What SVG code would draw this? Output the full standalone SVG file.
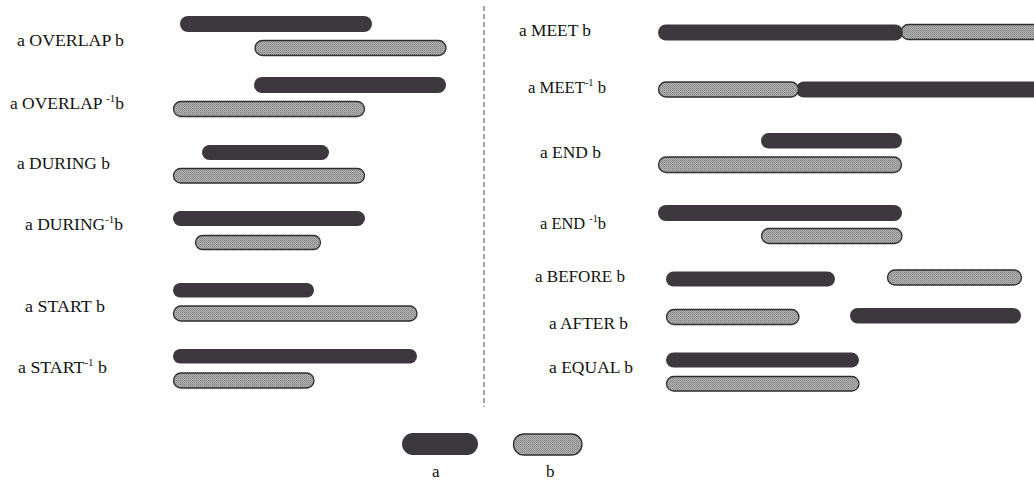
<svg xmlns="http://www.w3.org/2000/svg" width="1034" height="480" viewBox="0 0 1034 480">
  <defs>
    <!-- halftone-like stipple for interval b -->
    <pattern id="stipple" width="2" height="2" patternUnits="userSpaceOnUse">
      <rect width="2" height="2" fill="#b3b3b3"/>
      <rect width="1" height="1" fill="#838383"/>
      <rect x="1" y="1" width="1" height="1" fill="#949494"/>
    </pattern>
    <style>
      .a { fill: #3c383e; }
      .b { fill: url(#stipple); stroke: #2f2f2f; stroke-width: 1.3; }
      .lbl { font-family: "Liberation Serif", "Times New Roman", serif; font-size: 17px; fill: #111111; }
      .sup { font-size: 10.5px; }
      .divider { stroke: #4a4a4a; stroke-width: 1; stroke-dasharray: 5 3; fill: none; }
    </style>
  </defs>
  <rect width="1034" height="480" fill="#ffffff"/>

  <!-- left column -->
  <g id="overlap">
    <text class="lbl" x="17" y="46" textLength="107" lengthAdjust="spacingAndGlyphs">a OVERLAP b</text>
    <rect class="a" x="180" y="16" width="192" height="16" rx="8"/>
    <rect class="b" x="255" y="40.5" width="191" height="15" rx="7.5"/>
  </g>
  <g id="overlap-inv">
    <text class="lbl" x="10" y="109" textLength="114" lengthAdjust="spacingAndGlyphs">a OVERLAP <tspan class="sup" dy="-7">-1</tspan><tspan dy="7">b</tspan></text>
    <rect class="a" x="254" y="77" width="192" height="16" rx="8"/>
    <rect class="b" x="173.5" y="101.5" width="191" height="15" rx="7.5"/>
  </g>
  <g id="during">
    <text class="lbl" x="17" y="169" textLength="93" lengthAdjust="spacingAndGlyphs">a DURING b</text>
    <rect class="a" x="202" y="145" width="127" height="15" rx="7.5"/>
    <rect class="b" x="173.5" y="168.5" width="191" height="14.5" rx="7.25"/>
  </g>
  <g id="during-inv">
    <text class="lbl" x="25" y="230" textLength="98" lengthAdjust="spacingAndGlyphs">a DURING<tspan class="sup" dy="-7">-1</tspan><tspan dy="7">b</tspan></text>
    <rect class="a" x="173" y="211" width="192" height="15" rx="7.5"/>
    <rect class="b" x="195.5" y="235.5" width="125" height="14" rx="7"/>
  </g>
  <g id="start">
    <text class="lbl" x="25" y="312" textLength="80" lengthAdjust="spacingAndGlyphs">a START b</text>
    <rect class="a" x="173" y="283" width="141" height="14.5" rx="7.25"/>
    <rect class="b" x="173.5" y="306" width="243.5" height="15" rx="7.5"/>
  </g>
  <g id="start-inv">
    <text class="lbl" x="18" y="373" textLength="89" lengthAdjust="spacingAndGlyphs">a START<tspan class="sup" dy="-7">-1</tspan><tspan dy="7"> b</tspan></text>
    <rect class="a" x="173" y="349" width="244" height="14.5" rx="7.25"/>
    <rect class="b" x="173.5" y="373" width="140.5" height="15" rx="7.5"/>
  </g>

  <!-- separator between the two columns -->
  <g id="separator">
    <line class="divider" x1="484" y1="6" x2="484" y2="407"/>
  </g>

  <!-- right column -->
  <g id="meet">
    <text class="lbl" x="519" y="36" textLength="72" lengthAdjust="spacingAndGlyphs">a MEET b</text>
    <rect class="b" x="901" y="24.5" width="150" height="15" rx="7.5"/>
    <rect class="a" x="658" y="24.5" width="245" height="16" rx="8"/>
  </g>
  <g id="meet-inv">
    <text class="lbl" x="528" y="93" textLength="78" lengthAdjust="spacingAndGlyphs">a MEET<tspan class="sup" dy="-7">-1</tspan><tspan dy="7"> b</tspan></text>
    <rect class="a" x="796" y="81.5" width="250" height="16" rx="8"/>
    <rect class="b" x="658.5" y="82" width="140" height="15" rx="7.5"/>
  </g>
  <g id="end">
    <text class="lbl" x="540" y="158" textLength="61" lengthAdjust="spacingAndGlyphs">a END b</text>
    <rect class="a" x="761" y="133" width="141" height="15.5" rx="7.75"/>
    <rect class="b" x="658.5" y="157" width="243" height="15.5" rx="7.75"/>
  </g>
  <g id="end-inv">
    <text class="lbl" x="540" y="229" textLength="66" lengthAdjust="spacingAndGlyphs">a END <tspan class="sup" dy="-7">-1</tspan><tspan dy="7">b</tspan></text>
    <rect class="a" x="658" y="205" width="244" height="16" rx="8"/>
    <rect class="b" x="761.5" y="228.5" width="140.5" height="15" rx="7.5"/>
  </g>
  <g id="before">
    <text class="lbl" x="535" y="282" textLength="90" lengthAdjust="spacingAndGlyphs">a BEFORE b</text>
    <rect class="a" x="666" y="271.5" width="169" height="15" rx="7.5"/>
    <rect class="b" x="887.5" y="270" width="134" height="15" rx="7.5"/>
  </g>
  <g id="after">
    <text class="lbl" x="549" y="329" textLength="79" lengthAdjust="spacingAndGlyphs">a AFTER b</text>
    <rect class="b" x="666.5" y="309.5" width="132.5" height="15" rx="7.5"/>
    <rect class="a" x="850" y="308" width="171" height="15.5" rx="7.75"/>
  </g>
  <g id="equal">
    <text class="lbl" x="549" y="373" textLength="84" lengthAdjust="spacingAndGlyphs">a EQUAL b</text>
    <rect class="a" x="666" y="352.5" width="193" height="15" rx="7.5"/>
    <rect class="b" x="666.5" y="376.5" width="192.5" height="14.5" rx="7.25"/>
  </g>

  <!-- key -->
  <g id="legend-a">
    <rect class="a" x="402" y="433" width="76" height="22" rx="11"/>
    <text class="lbl" x="432" y="477">a</text>
  </g>
  <g id="legend-b">
    <rect class="b" x="513.5" y="434" width="68.5" height="21" rx="10.5"/>
    <text class="lbl" x="546" y="477">b</text>
  </g>
</svg>
